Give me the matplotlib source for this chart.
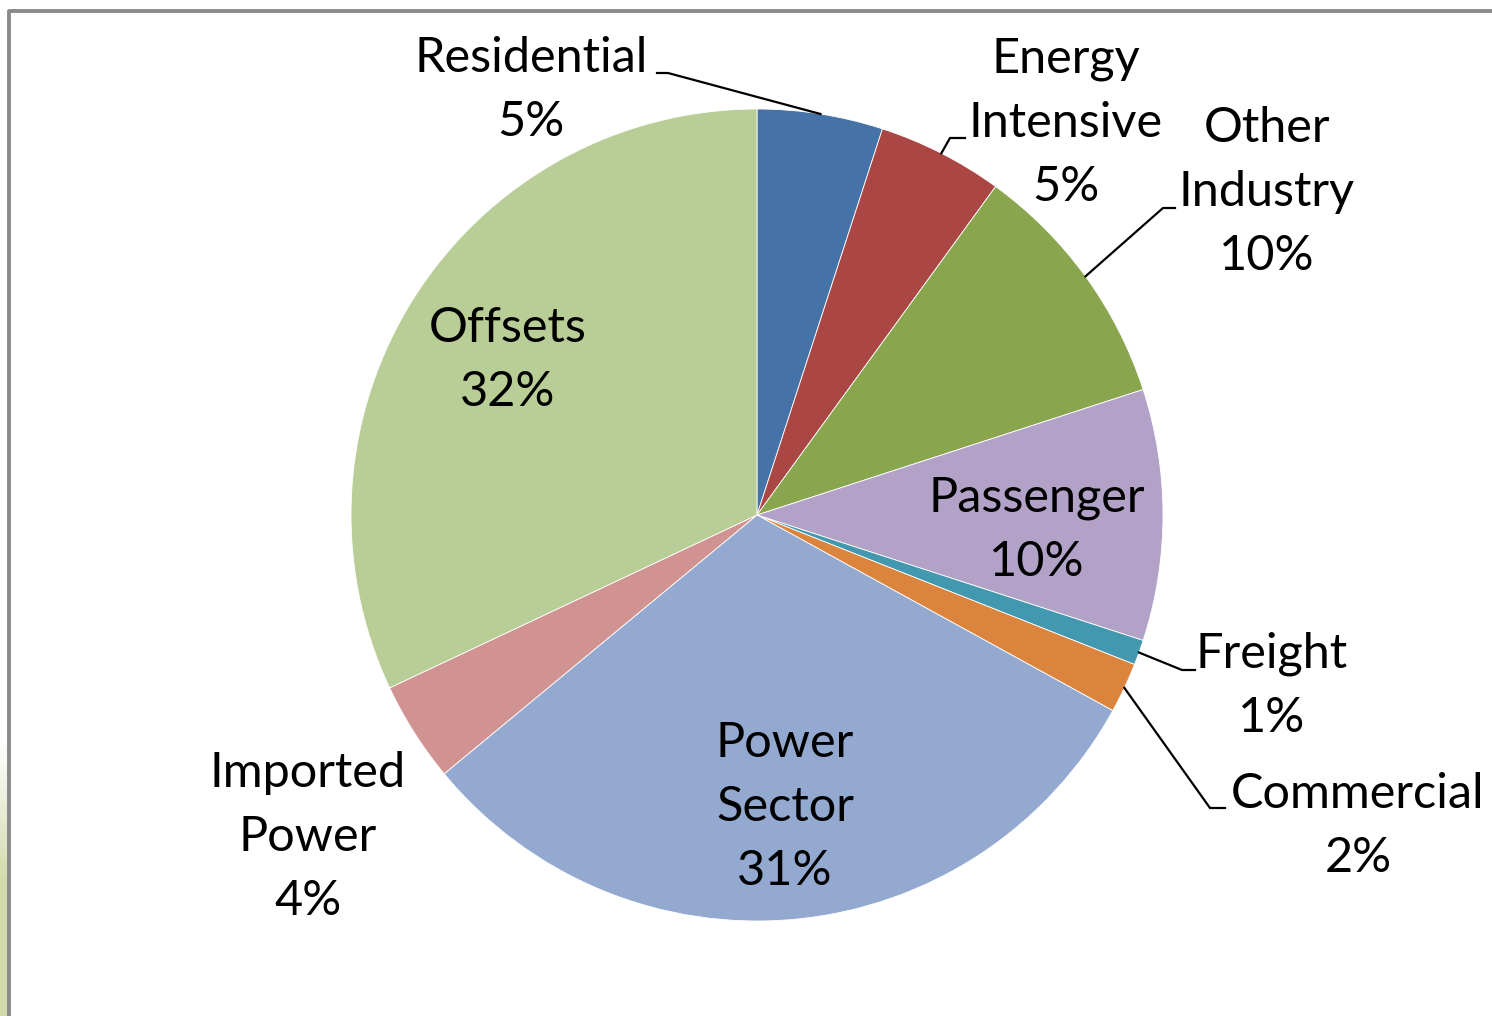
import numpy as np
import matplotlib.pyplot as plt
from matplotlib.colors import LinearSegmentedColormap

# --- data ---
labels = ["Residential", "Energy\nIntensive", "Other\nIndustry", "Passenger", "Freight",
          "Commercial", "Power\nSector", "Imported\nPower", "Offsets"]
values = [5, 5, 10, 10, 1, 2, 31, 4, 32]
colors = ["#4572A7", "#AA4643", "#89A54E", "#B3A2C7", "#4198AF",
          "#DB843D", "#93A9CF", "#D19392", "#B9CD96"]

# --- layout (pixel-like coords, y up) ---
W, H = 1492, 1016
cx, cy, R = 757, H - 515, 406
# label centre, elbow point (None = no leader line), text end of leader
label_pos = [
    ((531, H - 90), (668, H - 73), (657, H - 73)),
    ((1066, H - 123), (950, H - 138), (965, H - 138)),
    ((1267, H - 192), (1163, H - 208), (1175, H - 208)),
    ((1037, H - 530), None, None),
    ((1272, H - 686), (1182, H - 670), (1195, H - 670)),
    ((1358, H - 826), (1210, H - 808), (1225, H - 808)),
    ((785, H - 807), None, None),
    ((308, H - 837), None, None),
    ((508, H - 360), None, None),
]

plt.rcParams['font.family'] = ['Lato', 'DejaVu Sans']

fig = plt.figure(figsize=(W / 100, H / 100), dpi=100)
ax = fig.add_axes([0, 0, 1, 1])

wedges, _ = ax.pie(values, colors=colors, startangle=90, counterclock=False,
                   center=(cx, cy), radius=R, frame=False,
                   wedgeprops=dict(linewidth=0.6, edgecolor="white"))

total = sum(values)
cum = 0
for lab, v, (tpos, elbow, tend) in zip(labels, values, label_pos):
    mid = 90 - (cum + v / 2) / total * 360
    cum += v
    ax.text(tpos[0], tpos[1], f"{lab}\n{v}%", ha="center", va="center",
            fontsize=35, linespacing=1.55, color="black")
    if elbow is not None:
        sx = cx + R * np.cos(np.radians(mid))
        sy = cy + R * np.sin(np.radians(mid))
        ax.plot([sx, elbow[0], tend[0]], [sy, elbow[1], tend[1]],
                color="black", lw=1.6, solid_joinstyle="miter")

# chart frame and left strip
ax.plot([9, 9, W + 5], [-5, H - 11, H - 11], color="#8a8a8a", lw=2.8)
grad = np.linspace(0, 1, 256).reshape(-1, 1)
cmap = LinearSegmentedColormap.from_list("strip", ["#d3dbae", "#d3dbae", "#ffffff"])
ax.imshow(grad, cmap=cmap, extent=(0, 8, 0, H - 740), aspect="auto",
          origin="lower", zorder=0)
ax.set_xlim(0, W)
ax.set_ylim(0, H)
ax.axis("off")

fig.savefig("out.png", dpi=100)
